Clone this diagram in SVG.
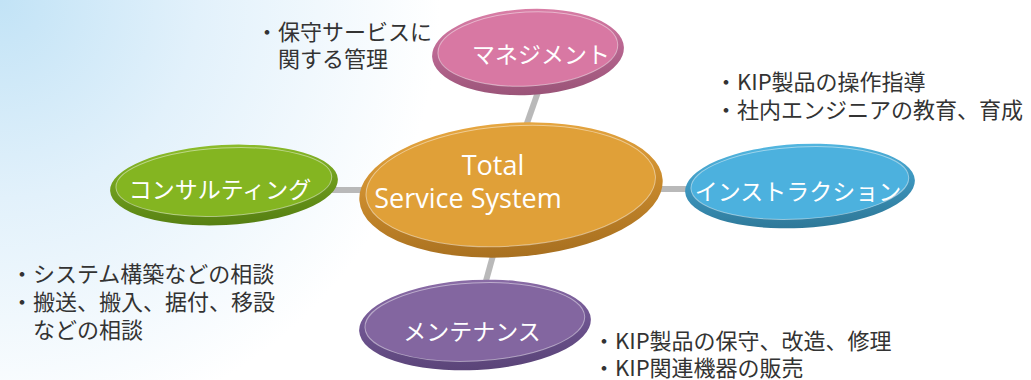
<svg xmlns="http://www.w3.org/2000/svg" width="1031" height="380" viewBox="0 0 1031 380">
<defs>
<radialGradient id="bg" cx="0" cy="0" r="440" gradientUnits="userSpaceOnUse">
<stop offset="0" stop-color="#c2e3f6"/>
<stop offset="0.45" stop-color="#e2f1fb"/>
<stop offset="1" stop-color="#ffffff"/>
</radialGradient>
<linearGradient id="gOrange" x1="0" y1="0" x2="0" y2="1"><stop offset="0" stop-color="#e6a640"/><stop offset="0.5" stop-color="#c98a2c"/><stop offset="1" stop-color="#a87020"/></linearGradient>
<linearGradient id="gPink" x1="0" y1="0" x2="0" y2="1"><stop offset="0" stop-color="#d97ea6"/><stop offset="0.5" stop-color="#b86690"/><stop offset="1" stop-color="#9a5478"/></linearGradient>
<linearGradient id="gGreen" x1="0" y1="0" x2="0" y2="1"><stop offset="0" stop-color="#8cbc2a"/><stop offset="0.5" stop-color="#6e9c1c"/><stop offset="1" stop-color="#567f12"/></linearGradient>
<linearGradient id="gBlue" x1="0" y1="0" x2="0" y2="1"><stop offset="0" stop-color="#52b6e0"/><stop offset="0.5" stop-color="#3c94bc"/><stop offset="1" stop-color="#2e7898"/></linearGradient>
<linearGradient id="gPurple" x1="0" y1="0" x2="0" y2="1"><stop offset="0" stop-color="#8a6ca6"/><stop offset="0.5" stop-color="#6e5490"/><stop offset="1" stop-color="#5a4478"/></linearGradient>
</defs>
<style>
.conn{stroke:#b9b9b9;stroke-width:6;fill:none}
.face{stroke:#ffffff;stroke-opacity:0.45;stroke-width:1}
.lbl{font-family:"Noto Sans CJK JP","Noto Sans",sans-serif;fill:#ffffff;font-size:23px;text-anchor:middle}
.ttl{font-family:"Open Sans","Noto Sans",sans-serif;fill:#ffffff;font-size:27px;text-anchor:middle}
.note{font-family:"Noto Sans CJK JP","Noto Sans",sans-serif;fill:#333333;font-size:22px}
</style>
<rect x="0" y="0" width="1031" height="380" fill="url(#bg)"/>
<g id="connectors">
<line class="conn" x1="538" y1="92" x2="526" y2="126"/>
<line class="conn" x1="494" y1="252" x2="484" y2="288"/>
<line class="conn" x1="330" y1="190" x2="366" y2="190"/>
<line class="conn" x1="655" y1="189" x2="696" y2="189"/>
</g>
<g id="node-consulting">
<g transform="rotate(-3 224 185)">
<ellipse cx="224" cy="185" rx="114" ry="40" fill="url(#gGreen)"/>
<ellipse class="face" cx="224" cy="182" rx="108" ry="34" fill="#84b521"/>
</g>
<text class="lbl" x="220" y="198">コンサルティング</text>
</g>
<g id="node-management">
<g transform="rotate(-3 528 52)">
<ellipse cx="528" cy="52" rx="96" ry="43" fill="url(#gPink)"/>
<ellipse class="face" cx="528" cy="49" rx="90" ry="37" fill="#d878a3"/>
</g>
<text class="lbl" x="541" y="63">マネジメント</text>
</g>
<g id="node-instruction">
<g transform="rotate(-3 800 186)">
<ellipse cx="800" cy="186" rx="115" ry="42" fill="url(#gBlue)"/>
<ellipse class="face" cx="800" cy="183" rx="109" ry="36" fill="#4cb1de"/>
</g>
<text class="lbl" x="798" y="200">インストラクション</text>
</g>
<g id="node-maintenance">
<g transform="rotate(-3 475 325)">
<ellipse cx="475" cy="325" rx="116" ry="45" fill="url(#gPurple)"/>
<ellipse class="face" cx="475" cy="322" rx="110" ry="39" fill="#8366a0"/>
</g>
<text class="lbl" x="472" y="340">メンテナンス</text>
</g>
<g id="node-total">
<g transform="rotate(-4 511 190)">
<ellipse cx="511" cy="190" rx="152" ry="67" fill="url(#gOrange)"/>
<ellipse class="face" cx="511" cy="186" rx="145" ry="60" fill="#e0a038"/>
</g>
<text class="ttl"><tspan x="493" y="175">Total</tspan><tspan x="468" y="208">Service System</tspan></text>
</g>
<g id="notes">
<text class="note"><tspan x="256" y="40">・保守サービスに</tspan><tspan x="278" y="67">関する管理</tspan></text>
<text class="note"><tspan x="715" y="90">・KIP製品の操作指導</tspan><tspan x="715" y="118">・社内エンジニアの教育、育成</tspan></text>
<text class="note"><tspan x="11" y="282">・システム構築などの相談</tspan><tspan x="11" y="310">・搬送、搬入、据付、移設</tspan><tspan x="33" y="338">などの相談</tspan></text>
<text class="note"><tspan x="593" y="349">・KIP製品の保守、改造、修理</tspan><tspan x="593" y="376">・KIP関連機器の販売</tspan></text>
</g>
</svg>
